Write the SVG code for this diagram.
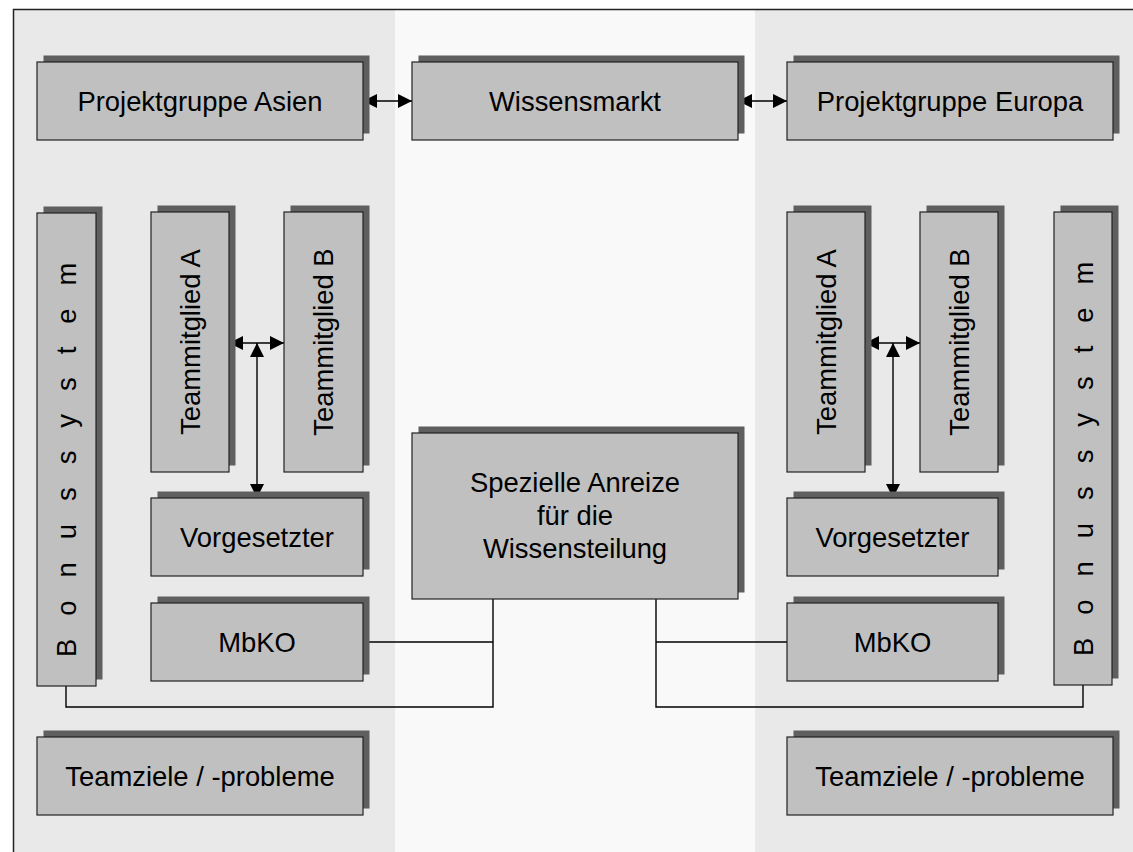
<svg xmlns="http://www.w3.org/2000/svg" width="1133" height="852" viewBox="0 0 1133 852">
  <style>
    .shadow { fill: #5f5f5f; }
    .box { fill: #c0c0c0; stroke: #222; stroke-width: 1.2; }
    .lbl { font-family: "Liberation Sans", Arial, sans-serif; font-size: 27.4px; fill: #000; text-anchor: middle; }
    .vlbl { font-family: "Liberation Sans", Arial, sans-serif; font-size: 27.4px; fill: #000; text-anchor: start; letter-spacing: 23px; }
    .link { fill: none; stroke: #000; stroke-width: 1.4; }
    .arrow { fill: none; stroke: #000; stroke-width: 1.4; marker-start: url(#head); marker-end: url(#head); }
  </style>
  <defs>
    <marker id="head" markerUnits="userSpaceOnUse" markerWidth="15" markerHeight="15" refX="14" refY="7" orient="auto-start-reverse">
      <path d="M0,0 L14,7 L0,14 z" fill="#000"/>
    </marker>
  </defs>

  <!-- background bands -->
  <rect x="0" y="0" width="1133" height="852" fill="#ffffff"/>
  <rect x="14" y="10" width="381" height="842" fill="#e9e9e9"/>
  <rect x="395" y="10" width="360" height="842" fill="#f9f9f9"/>
  <rect x="755" y="10" width="378" height="842" fill="#e9e9e9"/>
  <path d="M13.5,852 V9.5 H1133" fill="none" stroke="#222" stroke-width="1.5"/>

  <!-- connectors -->
  <g id="connectors">
    <line class="arrow" x1="363" y1="101" x2="412" y2="101"/>
    <line class="arrow" x1="738" y1="101" x2="787" y2="101"/>
    <line class="arrow" x1="229" y1="343" x2="284" y2="343"/>
    <line class="arrow" x1="257" y1="343" x2="257" y2="498"/>
    <line class="arrow" x1="865" y1="343" x2="920" y2="343"/>
    <line class="arrow" x1="893" y1="343" x2="893" y2="498"/>
    <polyline class="link" points="66,686 66,707 493,707 493,599"/>
    <line class="link" x1="363" y1="642" x2="493" y2="642"/>
    <polyline class="link" points="656,599 656,707 1083,707 1083,685"/>
    <line class="link" x1="656" y1="642" x2="787" y2="642"/>
  </g>

  <!-- top row -->
  <g id="projektgruppe-asien">
    <rect class="shadow" x="43.5" y="55.5" width="326" height="78"/>
    <rect class="box" x="37" y="62" width="326" height="78"/>
    <text class="lbl" x="200" y="110.5">Projektgruppe Asien</text>
  </g>
  <g id="wissensmarkt">
    <rect class="shadow" x="418.5" y="55.5" width="326" height="78"/>
    <rect class="box" x="412" y="62" width="326" height="78"/>
    <text class="lbl" x="575" y="110.5">Wissensmarkt</text>
  </g>
  <g id="projektgruppe-europa">
    <rect class="shadow" x="793.5" y="55.5" width="326" height="78"/>
    <rect class="box" x="787" y="62" width="326" height="78"/>
    <text class="lbl" x="950" y="110.5">Projektgruppe Europa</text>
  </g>

  <!-- left group -->
  <g id="bonussystem-links">
    <rect class="shadow" x="43.5" y="206.5" width="59" height="473"/>
    <rect class="box" x="37" y="213" width="59" height="473"/>
    <text class="vlbl" transform="translate(66.5,657) rotate(-90)" x="0" y="9.5">Bonussystem</text>
  </g>
  <g id="teammitglied-a-links">
    <rect class="shadow" x="157.5" y="205.5" width="78" height="260"/>
    <rect class="box" x="151" y="212" width="78" height="260"/>
    <text class="lbl" transform="translate(190,342) rotate(-90)" x="0" y="9.5">Teammitglied A</text>
  </g>
  <g id="teammitglied-b-links">
    <rect class="shadow" x="290.5" y="205.5" width="79" height="260"/>
    <rect class="box" x="284" y="212" width="79" height="260"/>
    <text class="lbl" transform="translate(323.5,342) rotate(-90)" x="0" y="9.5">Teammitglied B</text>
  </g>
  <g id="vorgesetzter-links">
    <rect class="shadow" x="157.5" y="491.5" width="212" height="78"/>
    <rect class="box" x="151" y="498" width="212" height="78"/>
    <text class="lbl" x="257" y="546.5">Vorgesetzter</text>
  </g>
  <g id="mbko-links">
    <rect class="shadow" x="157.5" y="596.5" width="212" height="78"/>
    <rect class="box" x="151" y="603" width="212" height="78"/>
    <text class="lbl" x="257" y="651.5">MbKO</text>
  </g>
  <g id="teamziele-links">
    <rect class="shadow" x="43.5" y="730.5" width="326" height="78"/>
    <rect class="box" x="37" y="737" width="326" height="78"/>
    <text class="lbl" x="200" y="785.5">Teamziele / -probleme</text>
  </g>

  <!-- centre -->
  <g id="spezielle-anreize">
    <rect class="shadow" x="418.5" y="426.5" width="326" height="166"/>
    <rect class="box" x="412" y="433" width="326" height="166"/>
    <text class="lbl" x="575" y="491.5">Spezielle Anreize<tspan x="575" dy="33">für die</tspan><tspan x="575" dy="33">Wissensteilung</tspan></text>
  </g>

  <!-- right group -->
  <g id="teammitglied-a-rechts">
    <rect class="shadow" x="793.5" y="205.5" width="78" height="260"/>
    <rect class="box" x="787" y="212" width="78" height="260"/>
    <text class="lbl" transform="translate(826,342) rotate(-90)" x="0" y="9.5">Teammitglied A</text>
  </g>
  <g id="teammitglied-b-rechts">
    <rect class="shadow" x="926.5" y="205.5" width="78" height="260"/>
    <rect class="box" x="920" y="212" width="78" height="260"/>
    <text class="lbl" transform="translate(959,342) rotate(-90)" x="0" y="9.5">Teammitglied B</text>
  </g>
  <g id="bonussystem-rechts">
    <rect class="shadow" x="1060.5" y="205.5" width="58" height="473"/>
    <rect class="box" x="1054" y="212" width="58" height="473"/>
    <text class="vlbl" transform="translate(1083,656) rotate(-90)" x="0" y="9.5">Bonussystem</text>
  </g>
  <g id="vorgesetzter-rechts">
    <rect class="shadow" x="793.5" y="491.5" width="211" height="78"/>
    <rect class="box" x="787" y="498" width="211" height="78"/>
    <text class="lbl" x="892.5" y="546.5">Vorgesetzter</text>
  </g>
  <g id="mbko-rechts">
    <rect class="shadow" x="793.5" y="596.5" width="211" height="78"/>
    <rect class="box" x="787" y="603" width="211" height="78"/>
    <text class="lbl" x="892.5" y="651.5">MbKO</text>
  </g>
  <g id="teamziele-rechts">
    <rect class="shadow" x="793.5" y="730.5" width="326" height="78"/>
    <rect class="box" x="787" y="737" width="326" height="78"/>
    <text class="lbl" x="950" y="785.5">Teamziele / -probleme</text>
  </g>
</svg>
